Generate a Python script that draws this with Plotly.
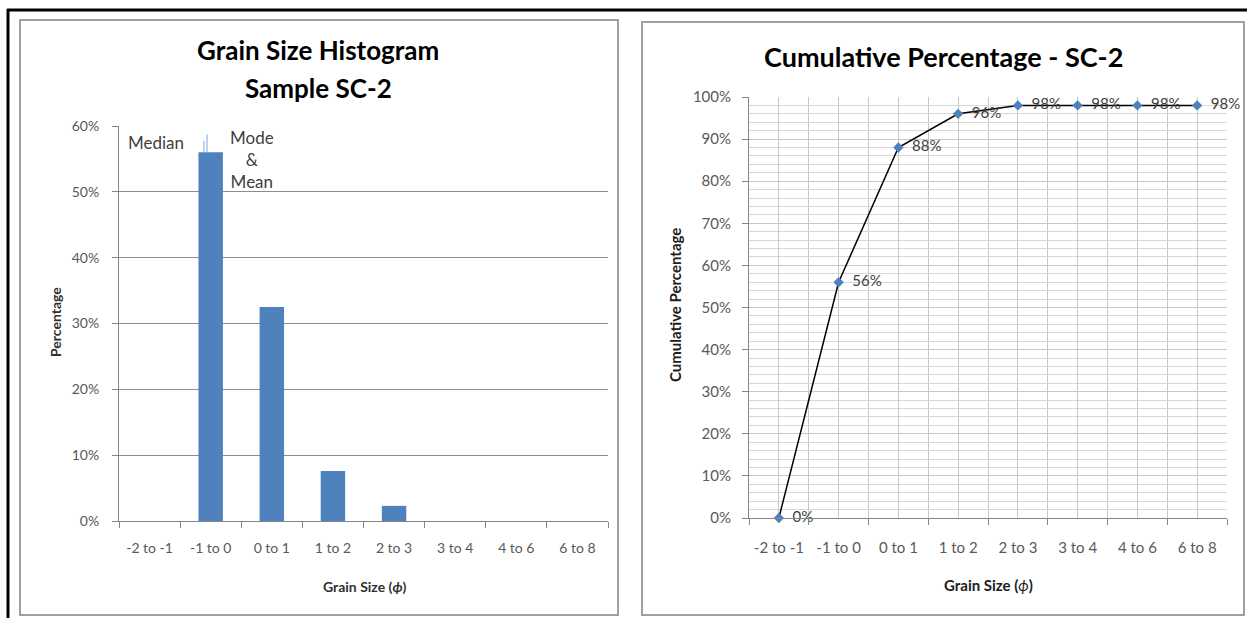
import plotly.graph_objects as go

categories = ["-2 to -1", "-1 to 0", "0 to 1", "1 to 2", "2 to 3", "3 to 4", "4 to 6", "6 to 8"]
percentage = [0.0, 0.56, 0.325, 0.076, 0.023, 0.0, 0.0, 0.0]
cumulative = [0.0, 0.56, 0.88, 0.96, 0.98, 0.98, 0.98, 0.98]
cum_labels = ["0%", "56%", "88%", "96%", "98%", "98%", "98%", "98%"]
# marker lines near the -1 to 0 bar (median, mode & mean)
median_line = {"x": 0.89, "top": 0.577}
mean_line = {"x": 0.94, "top": 0.587}

W, H = 1247, 618
FONT = "Lato"
BLUE = "#4F81BD"
TICK = "#595959"

def px(x):
    return x / W

def py(y):
    return 1 - y / H

fig = go.Figure()
xpos = list(range(len(categories)))

fig.add_trace(go.Bar(
    x=xpos, y=percentage, marker_color=BLUE,
    marker_line_width=0, xaxis="x", yaxis="y", width=0.4, showlegend=False,
))

fig.add_trace(go.Scatter(
    x=xpos, y=cumulative, mode="lines+markers+text",
    line=dict(color="black", width=1.5),
    marker=dict(symbol="diamond", size=8, color=BLUE),
    text=["  " + t for t in cum_labels], textposition="middle right",
    textfont=dict(family=FONT, size=15, color="#404040"),
    xaxis="x2", yaxis="y2", showlegend=False, cliponaxis=False,
))

fig.update_layout(
    width=W, height=H, margin=dict(l=0, r=0, t=0, b=0, autoexpand=False),
    paper_bgcolor="white", plot_bgcolor="white",
    font=dict(family=FONT, color=TICK),
    xaxis=dict(
        domain=[px(119), px(608)], anchor="y", range=[-0.5, 7.5], automargin=False,
        tickmode="array", tickvals=xpos, ticktext=categories,
        showgrid=False, showline=True, linecolor="#868686", linewidth=1,
        minor=dict(tick0=0.5, dtick=1, ticks="outside", ticklen=6, tickcolor="#868686"),
        ticks="", ticklabelstandoff=14,
        tickfont=dict(size=14, color=TICK), zeroline=False,
    ),
    yaxis=dict(
        domain=[py(521), py(126)], anchor="x", range=[0, 0.6], automargin=False,
        dtick=0.1, tickformat=".0%", showgrid=True, gridcolor="#8c8c8c", gridwidth=1,
        showline=True, linecolor="#868686", ticks="outside", ticklen=6, tickcolor="#868686",
        ticklabelstandoff=10,
        tickfont=dict(size=14, color=TICK), zeroline=False,
    ),
    xaxis2=dict(
        domain=[px(749), px(1227)], anchor="y2", range=[-0.5, 7.5], automargin=False,
        tickmode="array", tickvals=xpos, ticktext=categories,
        showgrid=True, gridcolor="#c8c8c8", gridwidth=1,
        minor=dict(tick0=0.5, dtick=1, showgrid=True, gridcolor="#c8c8c8", ticks="outside", ticklen=6, tickcolor="#868686"),
        showline=True, linecolor="#868686", ticks="", zeroline=False, ticklabelstandoff=16,
        tickfont=dict(size=15, color=TICK),
    ),
    yaxis2=dict(
        domain=[py(518), py(97)], anchor="x2", range=[0, 1], automargin=False,
        dtick=0.1, tickformat=".0%", showgrid=True, gridcolor="#c8c8c8", gridwidth=1,
        minor=dict(dtick=0.02, showgrid=True, gridcolor="#d8d8d8"),
        showline=True, linecolor="#868686", ticks="outside", ticklen=6, tickcolor="#868686",
        ticklabelstandoff=8,
        tickfont=dict(size=15, color=TICK), zeroline=False,
    ),
)

shapes = [
    # outer black frame lines
    dict(type="line", xref="paper", yref="paper", x0=px(7), x1=1, y0=py(10), y1=py(10), line=dict(color="black", width=3)),
    dict(type="line", xref="paper", yref="paper", x0=px(8), x1=px(8), y0=py(9), y1=0, line=dict(color="black", width=3)),
    # chart borders
    dict(type="rect", xref="paper", yref="paper", x0=px(20), x1=px(618), y0=py(615), y1=py(20), line=dict(color="#a0a0a0", width=2)),
    dict(type="rect", xref="paper", yref="paper", x0=px(642), x1=px(1244), y0=py(615), y1=py(22), line=dict(color="#a0a0a0", width=2)),
    # median / mean markers
    dict(type="line", xref="x", yref="y", x0=median_line["x"], x1=median_line["x"], y0=percentage[1], y1=median_line["top"], line=dict(color="#7FA7D8", width=1)),
    dict(type="line", xref="x", yref="y", x0=mean_line["x"], x1=mean_line["x"], y0=percentage[1], y1=mean_line["top"], line=dict(color="#7FA7D8", width=1)),
]
fig.update_layout(shapes=shapes)

def note(text, x, y, size, color="black", angle=0):
    fig.add_annotation(text=text, xref="paper", yref="paper", x=px(x), y=py(y),
                       xanchor="center", yanchor="middle", showarrow=False, textangle=angle,
                       align="center", font=dict(size=size, color=color, family=FONT))

note("<b>Grain Size Histogram</b>", 318, 50, 26)
note("<b>Sample SC-2</b>", 318, 88, 26)
note("<b>Cumulative Percentage - SC-2</b>", 943, 57, 27)
note("Median", 156, 142, 17, "#404040")
note("Mode<br>&<br>Mean", 252, 159, 17, "#404040")
note("<b>Percentage</b>", 55, 322, 14, "#303030", -90)
note("<b>Grain Size (<i>ϕ</i>)</b>", 365, 586, 14, "#303030")
note("<b>Cumulative Percentage</b>", 675, 305, 15, "#202020", -90)
note("<b>Grain Size (</b><i>ϕ</i><b>)</b>", 988, 585, 15, "#202020")

fig.write_html("out.html", config={"displayModeBar": False},
               post_script="document.body.style.margin='0';")
